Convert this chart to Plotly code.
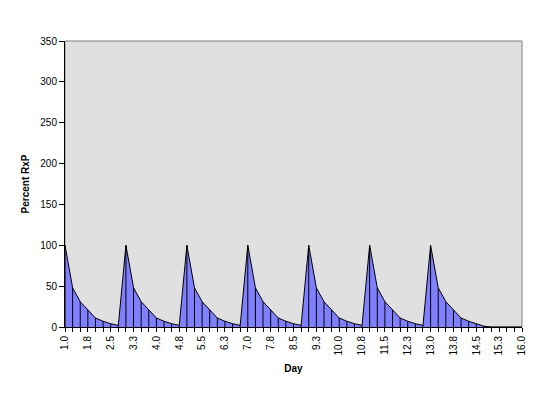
import plotly.graph_objects as go

# Category values (days, 6-hour steps)
days = [1.0, 1.25, 1.5, 1.75, 2.0, 2.25, 2.5, 2.75,
        3.0, 3.25, 3.5, 3.75, 4.0, 4.25, 4.5, 4.75,
        5.0, 5.25, 5.5, 5.75, 6.0, 6.25, 6.5, 6.75,
        7.0, 7.25, 7.5, 7.75, 8.0, 8.25, 8.5, 8.75,
        9.0, 9.25, 9.5, 9.75, 10.0, 10.25, 10.5, 10.75,
        11.0, 11.25, 11.5, 11.75, 12.0, 12.25, 12.5, 12.75,
        13.0, 13.25, 13.5, 13.75, 14.0, 14.25, 14.5, 14.75,
        15.0, 15.25, 15.5, 15.75, 16.0]

# Percent RxP
percent = [100, 48, 31, 21, 11, 7, 4, 2,
           100, 48, 31, 21, 11, 7, 4, 2,
           100, 48, 31, 21, 11, 7, 4, 2,
           100, 48, 31, 21, 11, 7, 4, 2,
           100, 48, 31, 21, 11, 7, 4, 2,
           100, 48, 31, 21, 11, 7, 4, 2,
           100, 48, 31, 21, 11, 7, 4, 1,
           0, 0, 0, 0, 0]

# Category axis labels (every third category)
tick_labels = ["1.0", "1.8", "2.5", "3.3", "4.0", "4.8", "5.5", "6.3", "7.0",
               "7.8", "8.5", "9.3", "10.0", "10.8", "11.5", "12.3", "13.0",
               "13.8", "14.5", "15.3", "16.0"]

label_every = 3
ticktext = []
for i, d in enumerate(days):
    ticktext.append(tick_labels[i // label_every] if i % label_every == 0 else "")

# Drop-line segments built from the data
drop_x, drop_y = [], []
for d, v in zip(days, percent):
    drop_x += [d, d, None]
    drop_y += [0, v, None]

FONT = "Liberation Sans, Arial, sans-serif"

fig = go.Figure()
fig.add_trace(go.Scatter(
    x=days, y=percent, mode="lines", fill="tozeroy",
    fillcolor="#8080FF", line=dict(color="black", width=1),
    hoverinfo="x+y", showlegend=False))
fig.add_trace(go.Scatter(
    x=drop_x, y=drop_y, mode="lines",
    line=dict(color="black", width=1), hoverinfo="skip", showlegend=False))

fig.update_layout(
    width=545, height=394,
    margin=dict(l=57, r=31, t=33, b=75, autoexpand=False),
    paper_bgcolor="white", plot_bgcolor="#E0E0E0",
    font=dict(family=FONT, size=10, color="black"),
    showlegend=False,
    shapes=[dict(type="rect", xref="paper", yref="paper", x0=0, y0=0, x1=1, y1=1,
                 line=dict(color="#808080", width=1), fillcolor="rgba(0,0,0,0)",
                 layer="below")],
    xaxis=dict(
        range=[1, 16], tickmode="array", tickvals=days, ticktext=ticktext,
        tickangle=-90, ticks="outside", ticklen=4, tickcolor="black",
        showline=True, linecolor="black", linewidth=1, showgrid=False,
        zeroline=False, tickfont=dict(size=10), automargin=False,
        title=dict(text="<b>Day</b>", font=dict(size=10), standoff=10)),
    yaxis=dict(
        range=[0, 350], dtick=50, ticks="outside", ticklen=5, tickcolor="black",
        showline=True, linecolor="black", linewidth=1, showgrid=False,
        zeroline=False, tickfont=dict(size=10), automargin=False,
        title=dict(text="<b>Percent RxP</b>", font=dict(size=10), standoff=8)),
)

fig.write_html("out.html")
